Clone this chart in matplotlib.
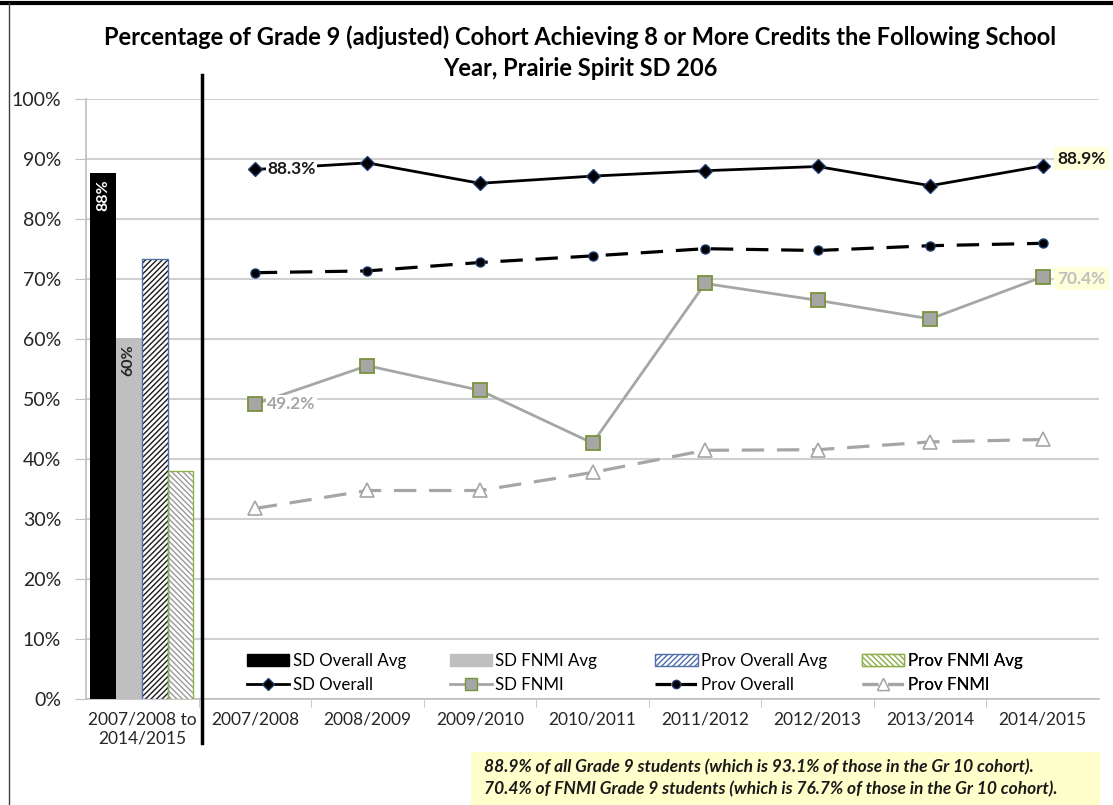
import numpy as np
import matplotlib.pyplot as plt
from matplotlib.patches import Patch, Rectangle
from matplotlib.lines import Line2D
import matplotlib.transforms as mtransforms

plt.rcParams['font.family'] = ['Lato', 'DejaVu Sans']
plt.rcParams['hatch.linewidth'] = 1.0

# Data
years = ['2007/2008', '2008/2009', '2009/2010', '2010/2011',
         '2011/2012', '2012/2013', '2013/2014', '2014/2015']
avg_label = '2007/2008 to\n2014/2015'

sd_overall = [88.3, 89.4, 86.0, 87.2, 88.1, 88.8, 85.6, 88.9]
sd_fnmi = [49.2, 55.6, 51.5, 42.7, 69.3, 66.5, 63.4, 70.4]
prov_overall = [71.1, 71.4, 72.8, 73.9, 75.1, 74.8, 75.6, 76.0]
prov_fnmi = [31.8, 34.8, 34.8, 37.8, 41.5, 41.6, 42.9, 43.3]

avg_names = ['SD Overall Avg', 'SD FNMI Avg', 'Prov Overall Avg', 'Prov FNMI Avg']
avg_values = [87.7, 60.2, 73.4, 38.1]

note_lines = ['88.9% of all Grade 9 students (which is 93.1% of those in the Gr 10 cohort).',
              '70.4% of FNMI Grade 9 students (which is 76.7% of those in the Gr 10 cohort).']

W, H = 1113, 805
fig = plt.figure(figsize=(W / 100, H / 100), dpi=100)
ax = fig.add_axes([86 / W, 1 - 699.3 / H, 1013 / W, 600 / H])

# Bars in the first category
x_line = np.arange(1, len(years) + 1)
bw = 0.23
offs = [(i - 1.5) * bw - 0.005 for i in range(4)]
ax.bar(offs[0], avg_values[0], bw, color='black', zorder=3)
ax.bar(offs[1], avg_values[1], bw, color='#bfbfbf', zorder=3)
ax.bar(offs[2], avg_values[2], bw, color='white', edgecolor='#1a1a1a', hatch='//////', linewidth=0, zorder=3)
ax.bar(offs[2], avg_values[2], bw, fill=False, edgecolor='#4f6fa8', linewidth=1, zorder=4)
ax.bar(offs[3], avg_values[3], bw, color='white', edgecolor='#9a9a9a', hatch='\\\\\\\\\\\\', linewidth=0, zorder=3)
ax.bar(offs[3], avg_values[3], bw, fill=False, edgecolor='#8db04a', linewidth=1, zorder=4)

ax.text(offs[0], avg_values[0] - 1, f'{avg_values[0]:.0f}%', rotation=90, ha='center', va='top',
        color='white', fontsize=11.5, fontweight='bold', zorder=5)
ax.text(offs[1], avg_values[1] - 1, f'{avg_values[1]:.0f}%', rotation=90, ha='center', va='top',
        color='#262626', fontsize=11.5, fontweight='bold', zorder=5)

# Lines
ax.plot(x_line, sd_overall, color='black', lw=2, marker='D', ms=7, mfc='black', mec='#1f3b6e', zorder=6)
ax.plot(x_line, prov_overall, color='black', lw=2.3, dashes=(7, 4), marker='o', ms=6.5, mfc='black', mec='#1f3b6e', zorder=6)
ax.plot(x_line, sd_fnmi, color='#a6a6a6', lw=2, marker='s', ms=10, mfc='#a6a6a6', mec='#77933c', mew=1.3, zorder=6)
ax.plot(x_line, prov_fnmi, color='#a6a6a6', lw=2.3, dashes=(7, 4), marker='^', ms=10, mfc='white', mec='#a6a6a6', mew=1.2, zorder=6)

# Data labels
ax.text(x_line[0] + 0.11, sd_overall[0], f'{sd_overall[0]:.1f}%', ha='left', va='center', fontsize=12.5,
        fontweight='bold', color='#1a1a1a', zorder=8,
        bbox=dict(facecolor='white', edgecolor='none', pad=1))
ax.text(x_line[0] + 0.11, sd_fnmi[0], f'{sd_fnmi[0]:.1f}%', ha='left', va='center', fontsize=12.5,
        fontweight='bold', color='#a6a6a6', zorder=8,
        bbox=dict(facecolor='white', edgecolor='none', pad=1))
ax.text(x_line[-1] + 0.13, sd_overall[-1] + 1.2, f'{sd_overall[-1]:.1f}%', ha='left', va='center', fontsize=12.5,
        fontweight='bold', color='#1a1a1a', zorder=8,
        bbox=dict(facecolor='#ffffd9', edgecolor='none', pad=2.5))
ax.text(x_line[-1] + 0.13, sd_fnmi[-1] - 0.3, f'{sd_fnmi[-1]:.1f}%', ha='left', va='center', fontsize=12.5,
        fontweight='bold', color='#bfbfbf', zorder=8,
        bbox=dict(facecolor='#ffffd9', edgecolor='none', pad=2.5), clip_on=False)

# Axes styling
ax.set_xlim(-0.5, 8.5)
ax.set_ylim(0, 100)
ax.set_yticks(np.arange(0, 101, 10))
ax.set_yticklabels([f'{v}%' for v in range(0, 101, 10)], fontsize=14, color='#262626')
ax.set_xticks(np.arange(0, 9))
ax.set_xticklabels([avg_label] + years, fontsize=12.5, color='#262626')
ax.set_xticks(np.arange(0.5, 8.5, 1), minor=True)
ax.tick_params(axis='x', which='major', length=0, pad=9)
ax.tick_params(axis='x', which='minor', length=6, color='#bfbfbf', direction='out')
ax.tick_params(axis='y', length=8, color='#bfbfbf', pad=10)
ax.grid(axis='y', color='#d0d0d0', lw=1.5, zorder=0)
ax.set_axisbelow(True)
for s in ['top', 'right']:
    ax.spines[s].set_visible(False)
for s in ['left', 'bottom']:
    ax.spines[s].set_color('#bfbfbf')
    ax.spines[s].set_linewidth(1.2)

# Separator line between averages and yearly data
trans = mtransforms.blended_transform_factory(ax.transData, ax.transAxes)
ax.add_line(Line2D([0.53, 0.53], [1.04, -0.072], transform=trans, color='black', lw=2.5, clip_on=False, zorder=7))

# Legend: one bar entry above one line entry, four evenly spaced columns
bar_handles = [
    Patch(facecolor='black', edgecolor='black'),
    Patch(facecolor='#bfbfbf', edgecolor='#bfbfbf'),
    Patch(facecolor='white', edgecolor='#4f6fa8', hatch='//////'),
    Patch(facecolor='white', edgecolor='#8db04a', hatch='\\\\\\\\\\\\'),
]
line_handles = [
    Line2D([], [], color='black', lw=2, marker='D', ms=6, mfc='black', mec='#1f3b6e'),
    Line2D([], [], color='#a6a6a6', lw=2, marker='s', ms=9, mfc='#a6a6a6', mec='#77933c'),
    Line2D([], [], color='black', lw=2.3, dashes=(5, 3), marker='o', ms=6, mfc='black', mec='#1f3b6e'),
    Line2D([], [], color='#a6a6a6', lw=2.3, dashes=(5, 3), marker='^', ms=9, mfc='white', mec='#a6a6a6'),
]
line_names = ['SD Overall', 'SD FNMI', 'Prov Overall', 'Prov FNMI']
col_x = [0.159, 0.359, 0.562, 0.766]
for i in range(4):
    leg = ax.legend([bar_handles[i], line_handles[i]], [avg_names[i], line_names[i]],
                    loc='center left', bbox_to_anchor=(col_x[i], 0.044), frameon=False,
                    fontsize=12.2, handlelength=2.5, handletextpad=0.2, labelspacing=0.5,
                    borderpad=0, borderaxespad=0)
    ax.add_artist(leg)

# Title
fig.text(580 / W, 1 - 37 / H, 'Percentage of Grade 9 (adjusted) Cohort Achieving 8 or More Credits the Following School',
         ha='center', va='center', fontsize=17, fontweight='bold', color='black')
fig.text(580 / W, 1 - 68 / H, 'Year, Prairie Spirit SD 206',
         ha='center', va='center', fontsize=17, fontweight='bold', color='black')

# Chart frame
fig.add_artist(Line2D([0, 1], [1 - 3 / H, 1 - 3 / H], transform=fig.transFigure, color='black', lw=3))
fig.add_artist(Line2D([9 / W, 9 / W], [0, 1 - 3 / H], transform=fig.transFigure, color='#404040', lw=1))

# Note box
fig.add_artist(Rectangle((471 / W, 0), (1100 - 471) / W, 53 / H, transform=fig.transFigure,
                         facecolor='#ffffcc', edgecolor='none'))
fig.text(484 / W, 1 - 767 / H, note_lines[0], ha='left', va='center', fontsize=12.5,
         fontstyle='italic', fontweight='bold', color='#1a1a1a')
fig.text(484 / W, 1 - 789 / H, note_lines[1], ha='left', va='center', fontsize=12.5,
         fontstyle='italic', fontweight='bold', color='#1a1a1a')

fig.savefig('out.png', dpi=100)
